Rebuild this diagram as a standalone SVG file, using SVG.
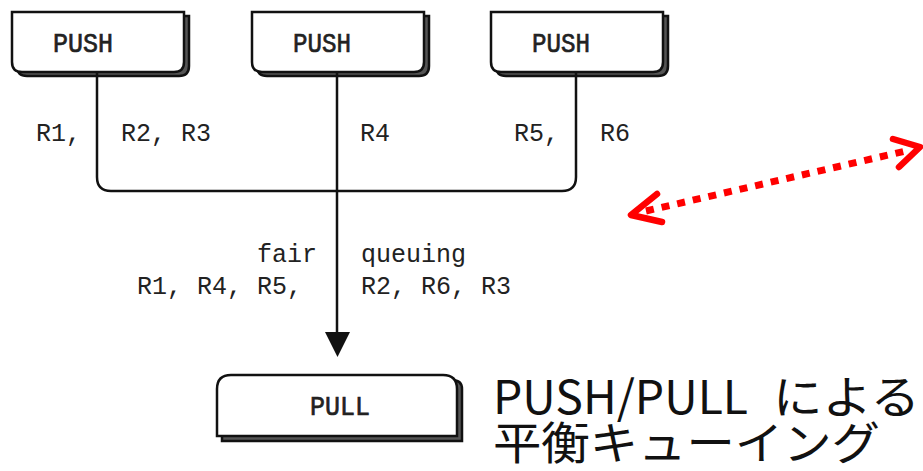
<svg xmlns="http://www.w3.org/2000/svg" width="923" height="471" viewBox="0 0 923 471">
  <style>
    .mono { font-family: "Liberation Mono", "DejaVu Sans Mono", monospace; font-size: 25px; fill: #222; }
    .lbl { font-family: "Liberation Mono", "DejaVu Sans Mono", monospace; font-size: 28px; fill: #222; stroke: #222; stroke-width: 0.7; }
    .face { fill: #fff; stroke: #111; stroke-width: 2.5; }
    .shade { fill: #555; stroke: #111; stroke-width: 2.5; }
    .wire { fill: none; stroke: #111; stroke-width: 2.5; }
    .red { fill: none; stroke: #f00; stroke-width: 6.5; stroke-linecap: round; stroke-linejoin: round; }
    .jp { font-family: "Noto Sans CJK JP", "Noto Sans", sans-serif; fill: #111; }
  </style>
  <defs>
    <!-- PUSH box outline: square top, rounded bottom -->
    <path id="pushShape" d="M0,0 H172 V50 Q172,60 162,60 H10 Q0,60 0,50 Z"/>
  </defs>

  <g id="push1">
    <use href="#pushShape" x="17" y="16" class="shade"/>
    <use href="#pushShape" x="12" y="12" class="face"/>
    <text x="53" y="52" class="lbl" textLength="60" lengthAdjust="spacingAndGlyphs">PUSH</text>
  </g>
  <g id="push2">
    <use href="#pushShape" x="257" y="16" class="shade"/>
    <use href="#pushShape" x="252" y="12" class="face"/>
    <text x="293" y="52" class="lbl" textLength="58" lengthAdjust="spacingAndGlyphs">PUSH</text>
  </g>
  <g id="push3">
    <use href="#pushShape" x="496" y="16" class="shade"/>
    <use href="#pushShape" x="491" y="12" class="face"/>
    <text x="532" y="52" class="lbl" textLength="58" lengthAdjust="spacingAndGlyphs">PUSH</text>
  </g>
  <g id="pull">
    <path d="M222,441 V389 Q222,380 231,380 H452 Q462,380 462,389 V441 Z" class="shade"/>
    <path d="M217,436 V389 Q217,375 231,375 H443 Q457,375 457,389 V436 Z" class="face"/>
    <text x="310" y="415" class="lbl" textLength="60" lengthAdjust="spacingAndGlyphs">PULL</text>
  </g>

  <g id="connectors">
    <path d="M97,72 V177 Q97,191 111,191 H562 Q576,191 576,177 V72" class="wire"/>
    <path d="M337,72 V334" class="wire"/>
    <path d="M325,332 H350 L337.5,357 Z" fill="#111"/>
    <!-- dotted double-headed red arrow -->
    <line x1="646" y1="211" x2="910" y2="150" stroke="#f00" stroke-width="7" stroke-dasharray="8 8"/>
    <polyline points="657,194 631,215 662,222" class="red"/>
    <polyline points="893,139 920,147 899,167" class="red"/>
  </g>

  <g id="labels" class="mono">
    <text x="36" y="141">R1,</text>
    <text x="121" y="141">R2, R3</text>
    <text x="360" y="141">R4</text>
    <text x="514" y="141">R5,</text>
    <text x="600" y="141">R6</text>
    <text x="257" y="262">fair</text>
    <text x="361" y="262">queuing</text>
    <text x="137" y="294">R1, R4, R5,</text>
    <text x="361" y="294">R2, R6, R3</text>
  </g>

  <g id="caption" class="jp">
    <text y="414"><tspan x="493" font-size="46" textLength="255" lengthAdjust="spacingAndGlyphs">PUSH/PULL</tspan><tspan x="773" font-size="45" textLength="147" lengthAdjust="spacingAndGlyphs">による</tspan></text>
    <text x="493" y="460" font-size="45" textLength="387" lengthAdjust="spacingAndGlyphs">平衡キューイング</text>
  </g>
</svg>
